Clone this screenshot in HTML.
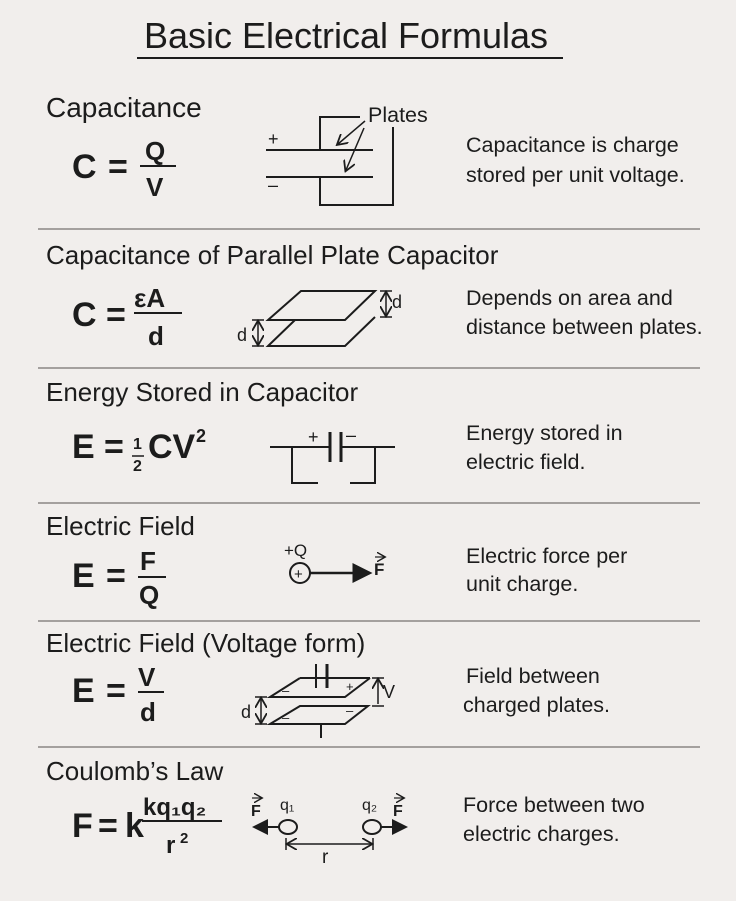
<!DOCTYPE html>
<html><head><meta charset="utf-8"><style>
html,body{margin:0;padding:0;background:#f1eeec;}
svg{display:block;}
text{font-family:"Liberation Sans",sans-serif;fill:#1c1c1c;}
.h{font-size:26px;}
.b{font-size:21.5px;}
.f{font-size:34px;font-weight:bold;}
.n{font-size:26px;font-weight:bold;}
</style></head><body>
<svg width="736" height="901" viewBox="0 0 736 901" xmlns="http://www.w3.org/2000/svg">
<rect width="736" height="901" fill="#f1eeec"/>
<defs><marker id="ah" markerWidth="8" markerHeight="8" refX="7" refY="4" orient="auto-start-reverse"><path d="M0,0 L8,4 L0,8 Z" fill="#1c1c1c"/></marker>
<marker id="as" markerWidth="8" markerHeight="8" refX="6" refY="4" orient="auto-start-reverse"><path d="M0,0 L7,4 L0,8" fill="none" stroke="#1c1c1c" stroke-width="1.2"/></marker></defs>
<g stroke="#1c1c1c" fill="none" stroke-width="2">
<text x="346" y="48" text-anchor="middle" style="font-size:36px" stroke="none">Basic Electrical Formulas</text>
<line x1="137" y1="58" x2="563" y2="58"/>
<g stroke="#8a8684" stroke-width="1.5">
<line x1="38" y1="229" x2="700" y2="229"/><line x1="38" y1="368" x2="700" y2="368"/>
<line x1="38" y1="503" x2="700" y2="503"/><line x1="38" y1="621" x2="700" y2="621"/>
<line x1="38" y1="747" x2="700" y2="747"/></g>

<!-- S1 -->
<g stroke="none">
<text x="46" y="117" style="font-size:28px">Capacitance</text>
<text x="72" y="178" class="f">C</text><text x="108" y="178" class="f">=</text>
<text x="145" y="160" class="n">Q</text><text x="146" y="196" class="n">V</text>
<text x="466" y="152" class="b">Capacitance is charge</text>
<text x="466" y="182" class="b">stored per unit voltage.</text>
<text x="368" y="122" class="b">Plates</text>
<text x="268" y="145" style="font-size:18px">+</text><text x="268" y="191" style="font-size:18px">–</text>
</g>
<line x1="140" y1="166" x2="176" y2="166"/>
<line x1="266" y1="150" x2="373" y2="150"/><line x1="266" y1="177" x2="373" y2="177"/>
<polyline points="360,117 320,117 320,150"/><polyline points="320,177 320,205 393,205 393,127"/>
<line x1="365" y1="121" x2="338" y2="144" stroke-width="1.5" marker-end="url(#as)"/>
<line x1="364" y1="128" x2="346" y2="170" stroke-width="1.5" marker-end="url(#as)"/>

<!-- S2 -->
<g stroke="none">
<text x="46" y="264" class="h">Capacitance of Parallel Plate Capacitor</text>
<text x="72" y="326" class="f">C</text><text x="106" y="326" class="f">=</text>
<text x="134" y="307" class="n">εA</text><text x="148" y="345" class="n">d</text>
<text x="466" y="305" class="b">Depends on area and</text>
<text x="466" y="334" class="b">distance between plates.</text>
<text x="329" y="313" style="font-size:18px">A</text>
<text x="392" y="308" style="font-size:18px">d</text>
<text x="237" y="341" style="font-size:18px">d</text>
</g>
<line x1="134" y1="313" x2="182" y2="313"/>
<polyline points="375,317 345,346 268,346 295,320"/>
<polygon points="301,291 375,291 345,320 268,320" fill="#f1eeec"/>
<line x1="380" y1="291" x2="392" y2="291" stroke-width="1.5"/><line x1="380" y1="317" x2="392" y2="317" stroke-width="1.5"/>
<line x1="386" y1="293" x2="386" y2="315" stroke-width="1.5" marker-start="url(#as)" marker-end="url(#as)"/>
<line x1="252" y1="320" x2="264" y2="320" stroke-width="1.5"/><line x1="252" y1="346" x2="264" y2="346" stroke-width="1.5"/>
<line x1="258" y1="322" x2="258" y2="344" stroke-width="1.5" marker-start="url(#as)" marker-end="url(#as)"/>

<!-- S3 -->
<g stroke="none">
<text x="46" y="401" class="h">Energy Stored in Capacitor</text>
<text x="72" y="458" class="f">E</text><text x="104" y="458" class="f">=</text>
<text x="133" y="449" style="font-size:16px;font-weight:bold">1</text>
<text x="133" y="471" style="font-size:16px;font-weight:bold">2</text>
<text x="148" y="458" class="f">CV</text><text x="196" y="442" style="font-size:18px;font-weight:bold">2</text>
<text x="466" y="440" class="b">Energy stored in</text>
<text x="466" y="469" class="b">electric field.</text>
<text x="308" y="443" style="font-size:18px">+</text><text x="346" y="441" style="font-size:18px">–</text>
</g>
<line x1="132" y1="456" x2="144" y2="456" stroke-width="1.5"/>
<line x1="270" y1="447" x2="330" y2="447"/><line x1="340" y1="447" x2="395" y2="447"/>
<line x1="330" y1="432" x2="330" y2="462" stroke-width="3"/><line x1="341" y1="432" x2="341" y2="462" stroke-width="3"/>
<polyline points="292,447 292,483 318,483"/><polyline points="375,447 375,483 350,483"/>

<!-- S4 -->
<g stroke="none">
<text x="46" y="535" class="h">Electric Field</text>
<text x="72" y="587" class="f">E</text><text x="106" y="587" class="f">=</text>
<text x="140" y="570" class="n">F</text><text x="139" y="604" class="n">Q</text>
<text x="466" y="563" class="b">Electric force per</text>
<text x="466" y="591" class="b">unit charge.</text>
<text x="284" y="556" style="font-size:17px">+Q</text>
<text x="374" y="575" style="font-size:17px;font-weight:bold">F</text>
<text x="294" y="579" style="font-size:15px">+</text>
</g>
<line x1="138" y1="577" x2="166" y2="577"/>
<line x1="375" y1="557" x2="384" y2="557" stroke-width="1.2" marker-end="url(#as)"/>
<circle cx="300" cy="573" r="10"/>
<line x1="310" y1="573" x2="370" y2="573" stroke-width="2.5" marker-end="url(#ah)"/>

<!-- S5 -->
<g stroke="none">
<text x="46" y="652" class="h">Electric Field (Voltage form)</text>
<text x="72" y="702" class="f">E</text><text x="106" y="702" class="f">=</text>
<text x="138" y="686" class="n">V</text><text x="140" y="721" class="n">d</text>
<text x="466" y="683" class="b">Field between</text>
<text x="463" y="712" class="b">charged plates.</text>
<text x="383" y="698" style="font-size:18px">V</text>
<text x="241" y="718" style="font-size:18px">d</text>
<text x="346" y="691" style="font-size:13px">+</text>
<text x="282" y="695" style="font-size:13px">–</text><text x="346" y="715" style="font-size:13px">–</text><text x="282" y="722" style="font-size:13px">–</text>
</g>
<line x1="138" y1="692" x2="164" y2="692"/>
<line x1="300" y1="678" x2="370" y2="678"/>
<polyline points="370,678 345,697 270,697 300,678"/>
<polygon points="300,706 368,706 345,724 270,724"/>
<line x1="316" y1="664" x2="316" y2="688"/><line x1="327" y1="664" x2="327" y2="688" stroke-width="3"/>
<line x1="321" y1="724" x2="321" y2="738"/>
<line x1="372" y1="678" x2="384" y2="678" stroke-width="1.5"/><line x1="372" y1="706" x2="384" y2="706" stroke-width="1.5"/>
<line x1="378" y1="680" x2="378" y2="704" stroke-width="1.5" marker-start="url(#as)"/>
<line x1="255" y1="697" x2="267" y2="697" stroke-width="1.5"/><line x1="255" y1="724" x2="267" y2="724" stroke-width="1.5"/>
<line x1="261" y1="699" x2="261" y2="722" stroke-width="1.5" marker-start="url(#as)" marker-end="url(#as)"/>

<!-- S6 -->
<g stroke="none">
<text x="46" y="780" class="h">Coulomb’s Law</text>
<text x="72" y="837" class="f">F</text><text x="98" y="837" class="f">=</text><text x="125" y="837" class="f">k</text>
<text x="143" y="815" style="font-size:24px;font-weight:bold">kq₁q₂</text>
<text x="166" y="853" style="font-size:24px;font-weight:bold">r</text><text x="180" y="843" style="font-size:15px;font-weight:bold">2</text>
<text x="463" y="812" class="b">Force between two</text>
<text x="463" y="841" class="b">electric charges.</text>
<text x="251" y="816" style="font-size:16px;font-weight:bold">F</text>
<text x="280" y="810" style="font-size:16px">q₁</text>
<text x="362" y="810" style="font-size:16px">q₂</text>
<text x="393" y="816" style="font-size:16px;font-weight:bold">F</text>
<text x="322" y="863" style="font-size:19px">r</text>
</g>
<line x1="142" y1="821" x2="222" y2="821"/>
<line x1="252" y1="798" x2="261" y2="798" stroke-width="1.2" marker-end="url(#as)"/>
<line x1="394" y1="798" x2="403" y2="798" stroke-width="1.2" marker-end="url(#as)"/>
<ellipse cx="288" cy="827" rx="9" ry="7"/><ellipse cx="372" cy="827" rx="9" ry="7"/>
<line x1="279" y1="827" x2="254" y2="827" marker-end="url(#ah)"/>
<line x1="381" y1="827" x2="406" y2="827" marker-end="url(#ah)"/>
<line x1="286" y1="838" x2="286" y2="850" stroke-width="1.5"/><line x1="373" y1="838" x2="373" y2="850" stroke-width="1.5"/>
<line x1="288" y1="844" x2="371" y2="844" stroke-width="1.5" marker-start="url(#as)" marker-end="url(#as)"/>
</g>
</svg>
</body></html>
